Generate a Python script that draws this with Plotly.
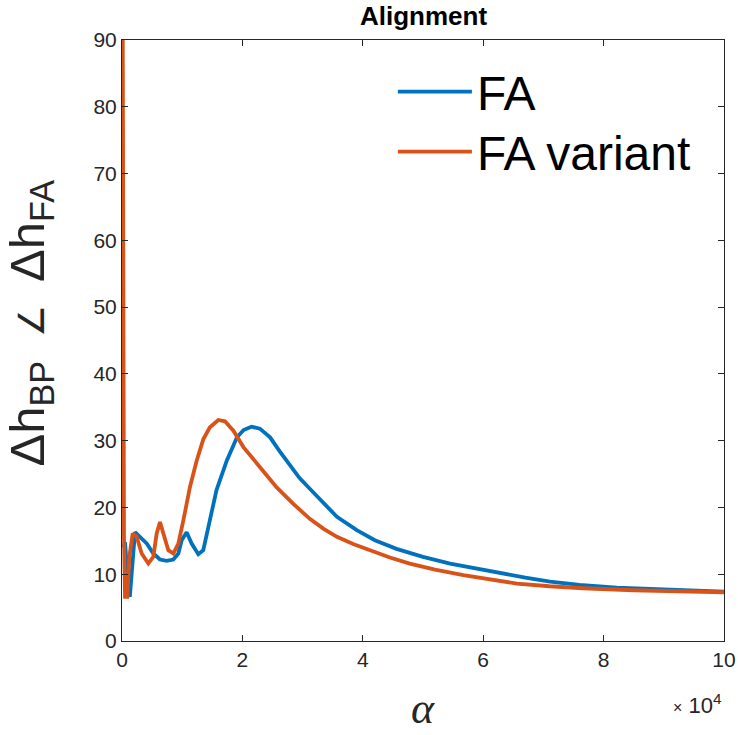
import plotly.graph_objects as go

# x in units of 1e4
fa_x = [0.02, 0.05, 0.09, 0.13, 0.216, 0.299, 0.41, 0.52, 0.631, 0.742, 0.853, 0.936, 0.991,
        1.074, 1.157, 1.268, 1.35, 1.46, 1.57, 1.74, 1.91, 2.02, 2.15, 2.29, 2.46, 2.62,
        2.79, 2.95, 3.12, 3.35, 3.57, 3.90, 4.20, 4.56, 5.00, 5.45, 5.90, 6.33, 6.70,
        7.11, 7.60, 8.22, 9.00, 10.0]
fa_y = [14.0, 14.8, 10.0, 6.6, 16.3, 15.6, 14.6, 13.1, 12.2, 12.0, 12.2, 13.1, 15.1,
        16.3, 14.6, 13.0, 13.6, 18.1, 22.6, 27.0, 30.5, 31.6, 32.1, 31.8, 30.5, 28.4,
        26.3, 24.4, 22.8, 20.6, 18.6, 16.6, 15.1, 13.8, 12.6, 11.6, 10.8, 10.1, 9.5,
        8.9, 8.4, 8.0, 7.7, 7.4]

fav_x = [0.0, 0.01, 0.033, 0.05, 0.088, 0.122, 0.177, 0.244, 0.327, 0.437, 0.52, 0.576,
         0.631, 0.686, 0.77, 0.853, 0.936, 1.02, 1.13, 1.24, 1.35, 1.46, 1.60, 1.71,
         1.85, 2.02, 2.29, 2.57, 2.85, 3.12, 3.35, 3.57, 3.85, 4.12, 4.45, 4.78, 5.20,
         5.67, 6.10, 6.56, 7.10, 7.66, 8.50, 9.20, 10.0]
fav_y = [25.0, 100.0, 15.6, 6.6, 6.6, 12.6, 16.1, 15.6, 13.1, 11.6, 12.6, 16.1,
         17.8, 16.1, 13.6, 13.1, 14.6, 18.1, 23.1, 27.0, 30.2, 32.0, 33.1, 32.9,
         31.5, 29.0, 26.0, 23.0, 20.5, 18.3, 16.8, 15.6, 14.5, 13.6, 12.5, 11.6, 10.7,
         9.85, 9.2, 8.6, 8.2, 7.9, 7.6, 7.4, 7.3]

x_ticks = [0, 2, 4, 6, 8, 10]
y_ticks = [0, 10, 20, 30, 40, 50, 60, 70, 80, 90]

BLUE = "#0072BD"
ORANGE = "#D95319"
AX = "#262626"
SANS = "Liberation Sans, Arial"

fig = go.Figure()
fig.add_trace(go.Scatter(x=fa_x, y=fa_y, mode="lines", name="FA", legend="legend",
                         line=dict(color=BLUE, width=3.8)))
fig.add_trace(go.Scatter(x=fav_x, y=fav_y, mode="lines", name="FA variant", legend="legend2",
                         line=dict(color=ORANGE, width=3.8)))

axis_common = dict(showline=True, mirror="ticks", linecolor=AX, linewidth=1,
                   ticks="inside", ticklen=6, tickcolor=AX, tickwidth=1,
                   showgrid=False, zeroline=False,
                   tickfont=dict(family=SANS, size=21, color=AX))

fig.update_xaxes(range=[0, 10], tickvals=x_ticks, ticktext=[str(v) for v in x_ticks],
                 **axis_common)
fig.update_yaxes(range=[0, 90], tickvals=y_ticks, ticktext=[str(v) for v in y_ticks],
                 **axis_common)

leg_common = dict(xanchor="left", yanchor="top", bgcolor="rgba(0,0,0,0)",
                  borderwidth=0, itemwidth=74,
                  font=dict(family=SANS, size=48, color="black"))

fig.update_layout(
    width=738, height=735,
    margin=dict(l=122, r=14, t=40, b=94, autoexpand=False),
    paper_bgcolor="white", plot_bgcolor="white",
    showlegend=True,
    legend=dict(x=0.45, y=0.9767, **leg_common),
    legend2=dict(x=0.45, y=0.8769, **leg_common),
    annotations=[
        dict(text="<b>Alignment</b>", xref="paper", yref="paper", x=0.5, y=1,
             yshift=24, xanchor="center", yanchor="middle", showarrow=False,
             font=dict(family=SANS, size=26, color="black")),
        dict(text="Δh<sub>BP</sub> \u2009<span style=\"font-size:36px\">∠</span>\u2009 Δh<sub>FA</sub>",
             xref="paper", yref="paper",
             x=0, y=0.5, xshift=-92, yshift=17, textangle=-90, xanchor="center",
             yanchor="middle", showarrow=False,
             font=dict(family=SANS, size=49, color=AX)),
        dict(text="<i>α</i>", xref="paper", yref="paper", x=0.5, y=0,
             yshift=-94, xanchor="center", yanchor="bottom", showarrow=False,
             font=dict(family="Liberation Serif, Times New Roman", size=44, color=AX)),
        dict(text="<span style=\"font-size:16px\">×</span> 10<sup>4</sup>",
             xref="paper", yref="paper", x=1, y=0,
             yshift=-63, xanchor="right", yanchor="middle", showarrow=False,
             font=dict(family=SANS, size=22, color=AX)),
    ],
)

fig.write_html("out.html")
